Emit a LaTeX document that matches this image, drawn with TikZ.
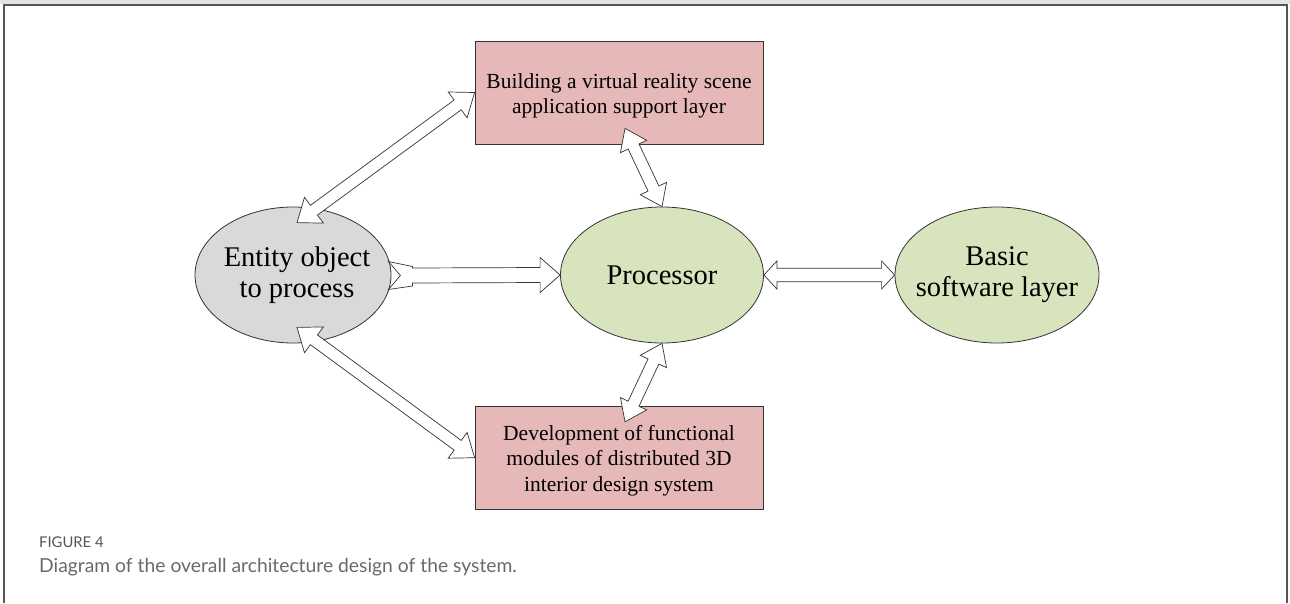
\documentclass[tikz,border=0pt]{standalone}
\usepackage{fontspec}
\setmainfont{Liberation Serif}
\newfontfamily\capfont{Lato}
\usetikzlibrary{shapes.geometric,calc}
\definecolor{boxpink}{HTML}{E6B9B8}
\definecolor{ellgreen}{HTML}{D7E4BD}
\definecolor{ellgray}{HTML}{D9D9D9}
\definecolor{edge}{HTML}{333333}
\definecolor{frameline}{HTML}{555555}
\definecolor{captxt}{HTML}{6A6A6A}
\tikzset{
  ell/.style={ellipse,draw=edge,line width=0.8pt,inner sep=0pt},
  bx/.style={rectangle,draw=edge,line width=0.8pt,fill=boxpink,inner sep=0pt,minimum width=288pt,minimum height=103pt},
  bigtxt/.style={font=\fontsize{28.5}{31}\selectfont,align=center,inner sep=0pt},
  boxtxt/.style={font=\fontsize{21.5}{25.5}\selectfont,align=center,inner sep=0pt},
  barr/.style={draw=edge,fill=white,line width=0.7pt,line join=miter},
}
\newcommand{\blockarr}[5]{%
  \draw[barr] (#1) -- ($(#1)!#5!(#2)!#4!90:(#2)$) -- ($(#1)!#5!(#2)!#3!90:(#2)$)
   -- ($(#2)!#5!(#1)!#3!-90:(#1)$) -- ($(#2)!#5!(#1)!#4!-90:(#1)$) -- (#2)
   -- ($(#2)!#5!(#1)!#4!90:(#1)$) -- ($(#2)!#5!(#1)!#3!90:(#1)$)
   -- ($(#1)!#5!(#2)!#3!-90:(#2)$) -- ($(#1)!#5!(#2)!#4!-90:(#2)$) -- cycle;}
\begin{document}
\begin{tikzpicture}[x=1pt,y=-1pt]
\useasboundingbox (0,0) rectangle (1290,603);
\fill[white] (0,0) rectangle (1290,603);
% frame
\fill[gray!22] (0,0) rectangle (1290,3.5);
\draw[frameline,line width=2pt] (4.3,603) -- (4.3,5) -- (1287.3,5) -- (1287.3,603);
% nodes
\node[ell,fill=ellgray,minimum width=196pt,minimum height=136pt] (ent) at (293,275) {};
\node[ell,fill=ellgreen,minimum width=203pt,minimum height=136pt] (proc) at (662,275) {};
\node[ell,fill=ellgreen,minimum width=204pt,minimum height=136pt] (basic) at (997,275) {};
\node[bx] (top) at (619,92.5) {};
\node[bx] (bot) at (619,457.7) {};
% arrow end points
\coordinate (a1) at ($(ent.north)+(4,16)$);
\coordinate (a2) at ($(ent.south)+(4,-16)$);
\coordinate (a5) at ($(top.south)+(6,-16)$);
\coordinate (a6) at ($(bot.north)+(6,16)$);
\coordinate (fa) at ($(ent.east)+(-3,0.5)$);
% arrows
\blockarr{a1}{top.west}{6pt}{16pt}{21pt}
\blockarr{a2}{bot.west}{6pt}{16pt}{21pt}
\blockarr{a5}{proc.north}{6pt}{14.5pt}{20pt}
\blockarr{a6}{proc.south}{6pt}{14.5pt}{20pt}
\blockarr{proc.east}{basic.west}{6.7pt}{14pt}{13pt}
\draw[barr] ($(fa)+(0,-14)$) -- ($(fa)+(24,-9)$) -- ($(fa)+(24,-7.5)$)
  -- ($(proc.west)+(-20,-7.5)$) -- ($(proc.west)+(-20,-17.5)$) -- (proc.west)
  -- ($(proc.west)+(-20,17.5)$) -- ($(proc.west)+(-20,7.5)$)
  -- ($(fa)+(24,7.5)$) -- ($(fa)+(24,10.5)$) -- ($(fa)+(0,14)$) -- ($(fa)+(12,0)$) -- cycle;
% texts
\node[bigtxt] (entT) at ($(ent.center)+(4,0)$) {Entity object\\to process};
\node[bigtxt] (procT) at (proc) {Processor};
\node[bigtxt] (basicT) at (basic) {Basic\\software layer};
\node[boxtxt] (topT) at ($(top.center)+(0,3.5)$) {Building a virtual reality scene\\application support layer};
\node[boxtxt] (botT) at ($(bot.center)+(0,3)$) {Development of functional\\modules of distributed 3D\\interior design system};
% caption
\node[anchor=base west,inner sep=0pt,font=\capfont\fontsize{14.8}{16}\selectfont,text=frameline] (figlab) at (39,547) {FIGURE 4};
\node[anchor=base west,inner sep=0pt,font=\capfont\fontsize{19.3}{22}\selectfont,text=captxt] (cap) at (39,572) {Diagram of the overall architecture design of the system.};
\end{tikzpicture}
\end{document}
